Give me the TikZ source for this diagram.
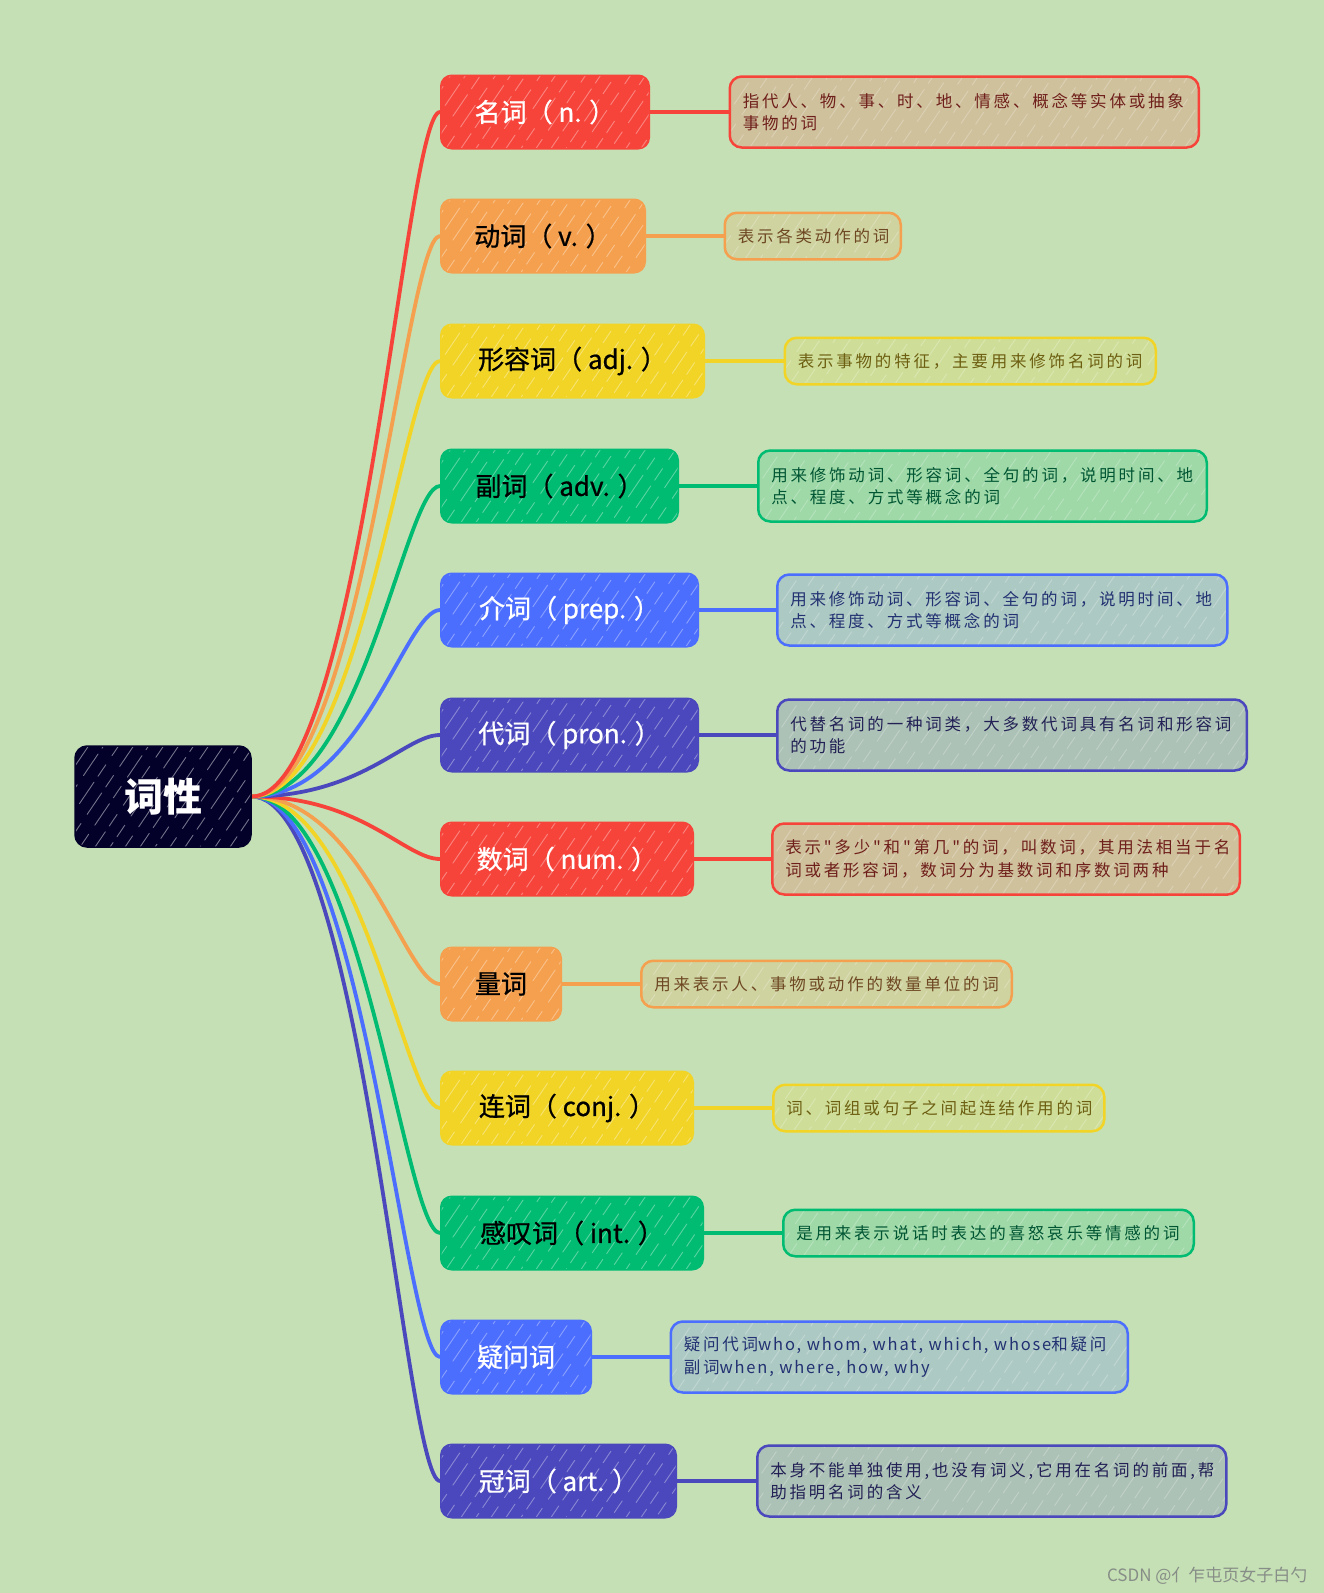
\documentclass[tikz,border=0pt]{standalone}
\usepackage{fontspec}
\setmainfont{Noto Sans CJK SC}
\newfontfamily\cjkfont{Noto Sans CJK SC}
\newfontfamily\topicfont[FakeBold=0.8]{Noto Sans CJK SC}
\newfontfamily\descfont[LetterSpace=17]{Noto Sans CJK SC}
\newfontfamily\desclat[LetterSpace=11]{Noto Sans CJK SC}
\usetikzlibrary{calc}
\pgfdeclarelayer{back}
\pgfdeclarelayer{bg}
\pgfsetlayers{back,bg,main}
\definecolor{bgc}{RGB}{197,224,180}
\definecolor{cred}{RGB}{247,68,59}
\definecolor{corange}{RGB}{245,160,78}
\definecolor{cyellow}{RGB}{242,212,38}
\definecolor{cgreen}{RGB}{0,188,114}
\definecolor{cblue}{RGB}{76,110,254}
\definecolor{cindigo}{RGB}{75,72,189}
\definecolor{croot}{RGB}{3,0,42}
\definecolor{wmc}{RGB}{135,141,135}
\tikzset{
  hatchlines/.style={path picture={
    \foreach \k in {0,...,36}{
      \pgfmathsetmacro{\ph}{mod(\k*13,37)}
      \draw[#1, line width=0.9pt, line cap=round,
            dash pattern=on 26pt off 7pt on 14pt off 11pt, dash phase=\ph pt]
        ($(path picture bounding box.south west)+(\k*15pt-72pt,-3pt)$) -- ++(78pt,115pt);
    }}},
  tp/.style={fill=#1, draw=#1, line width=1.5pt, rounded corners=11pt,
    minimum height=73.5pt, anchor=west, inner xsep=6pt,
    font=\topicfont\fontsize{26}{30}\selectfont,
    hatchlines={white, opacity=0.35}},
  ds/.style={draw=#1, fill=#1!20!bgc, text=#1!45!black, line width=2.5pt,
    rounded corners=12pt, anchor=west, inner xsep=13pt, align=left,
    font=\descfont\fontsize{16.5}{22.4}\selectfont,
    hatchlines={white, opacity=0.25}},
  one/.style={minimum height=46.5pt},
  two/.style={minimum height=71pt},
  conn/.style={line width=3.8pt, line cap=round},
  link/.style={line width=3.2pt, line cap=round},
}
\begin{document}
\begin{tikzpicture}[x=1pt, y=-1pt]
\useasboundingbox (0,0) rectangle (1324,1593);
\begin{pgfonlayer}{back}
  \fill[bgc] (0,0) rectangle (1324,1593);
\end{pgfonlayer}

% root
\node[fill=croot, draw=croot, line width=1.5pt, rounded corners=12pt,
      minimum width=176pt, minimum height=101pt, text=white,
      font=\cjkfont\bfseries\fontsize{39}{43}\selectfont,
      hatchlines={white, opacity=0.45}] (root) at (163,796.5) {词性};

% topics
\node[tp=cred,    text=white, minimum width=208.5pt] (t1)  at (440,112)  {名词（ n. ）};
\node[tp=corange, text=black, minimum width=204.5pt] (t2)  at (440,236)  {动词（ v. ）};
\node[tp=cyellow, text=black, minimum width=263.5pt] (t3)  at (440,361)  {形容词（ adj. ）};
\node[tp=cgreen,  text=black, minimum width=237.5pt] (t4)  at (440,486)  {副词（ adv. ）};
\node[tp=cblue,   text=white, minimum width=257.5pt] (t5)  at (440,610)  {介词（ prep. ）};
\node[tp=cindigo, text=white, minimum width=257.5pt] (t6)  at (440,735)  {代词（ pron. ）};
\node[tp=cred,    text=white, minimum width=252.5pt] (t7)  at (440,859)  {数词（ num. ）};
\node[tp=corange, text=black, minimum width=120.5pt] (t8)  at (440,984)  {量词};
\node[tp=cyellow, text=black, minimum width=252.5pt] (t9)  at (440,1108) {连词（ conj. ）};
\node[tp=cgreen,  text=black, minimum width=262.5pt] (t10) at (440,1233) {感叹词（ int. ）};
\node[tp=cblue,   text=white, minimum width=150.5pt] (t11) at (440,1357) {疑问词};
\node[tp=cindigo, text=white, minimum width=235.5pt] (t12) at (440,1481) {冠词（ art. ）};

% descriptions
\node[ds=cred, two, text width=443pt] (d1) at (728.5,112)
  {\mbox{指代人、物、事、时、地、情感、概念等实体或抽象}\\\mbox{事物的词}};
\node[ds=corange, one, text width=150pt] (d2) at (723.5,236)
  {\mbox{表示各类动作的词}};
\node[ds=cyellow, one, text width=345pt] (d3) at (783.5,361)
  {\mbox{表示事物的特征，主要用来修饰名词的词}};
\node[ds=cgreen, two, text width=422.5pt] (d4) at (757,486)
  {\mbox{用来修饰动词、形容词、全句的词，说明时间、地}\\\mbox{点、程度、方式等概念的词}};
\node[ds=cblue, two, text width=424pt] (d5) at (776,610)
  {\mbox{用来修饰动词、形容词、全句的词，说明时间、地}\\\mbox{点、程度、方式等概念的词}};
\node[ds=cindigo, two, text width=443.5pt] (d6) at (776,735)
  {\mbox{代替名词的一种词类，大多数代词具有名词和形容词}\\\mbox{的功能}};
\node[ds=cred, two, text width=441.5pt] (d7) at (771,859)
  {\mbox{表示"多少"和"第几"的词，叫数词，其用法相当于名}\\\mbox{词或者形容词，数词分为基数词和序数词两种}};
\node[ds=corange, one, text width=344.5pt] (d8) at (640,984)
  {\mbox{用来表示人、事物或动作的数量单位的词}};
\node[ds=cyellow, one, text width=305pt] (d9) at (772,1108)
  {\mbox{词、词组或句子之间起连结作用的词}};
\node[ds=cgreen, one, text width=384.5pt] (d10) at (782,1233)
  {\mbox{是用来表示说话时表达的喜怒哀乐等情感的词}};
\node[ds=cblue, two, text width=431pt] (d11) at (669.5,1357)
  {\mbox{疑问代词{\desclat who, whom, what, which, whose}和疑问}\\\mbox{副词{\desclat when, where, how, why}}};
\node[ds=cindigo, two, text width=443pt] (d12) at (756,1481)
  {\mbox{本身不能单独使用,也没有词义,它用在名词的前面,帮}\\\mbox{助指明名词的含义}};

% watermark
\node[anchor=east, text=wmc, font=\cjkfont\fontsize{17}{20}\selectfont] (wm) at (1311,1576) {CSDN @亻乍屯页女子白勺};

% connectors
\begin{pgfonlayer}{bg}
\foreach \i/\c in {12/cindigo,11/cblue,10/cgreen,9/cyellow,8/corange,7/cred,6/cindigo,5/cblue,4/cgreen,3/cyellow,2/corange,1/cred}{
  \draw[conn, draw=\c] (root.east) .. controls +(110,0) and +(-35,0) .. (t\i.west);
  \draw[link, draw=\c] (t\i.east) -- (d\i.west);
}
\end{pgfonlayer}
\end{tikzpicture}
\end{document}
